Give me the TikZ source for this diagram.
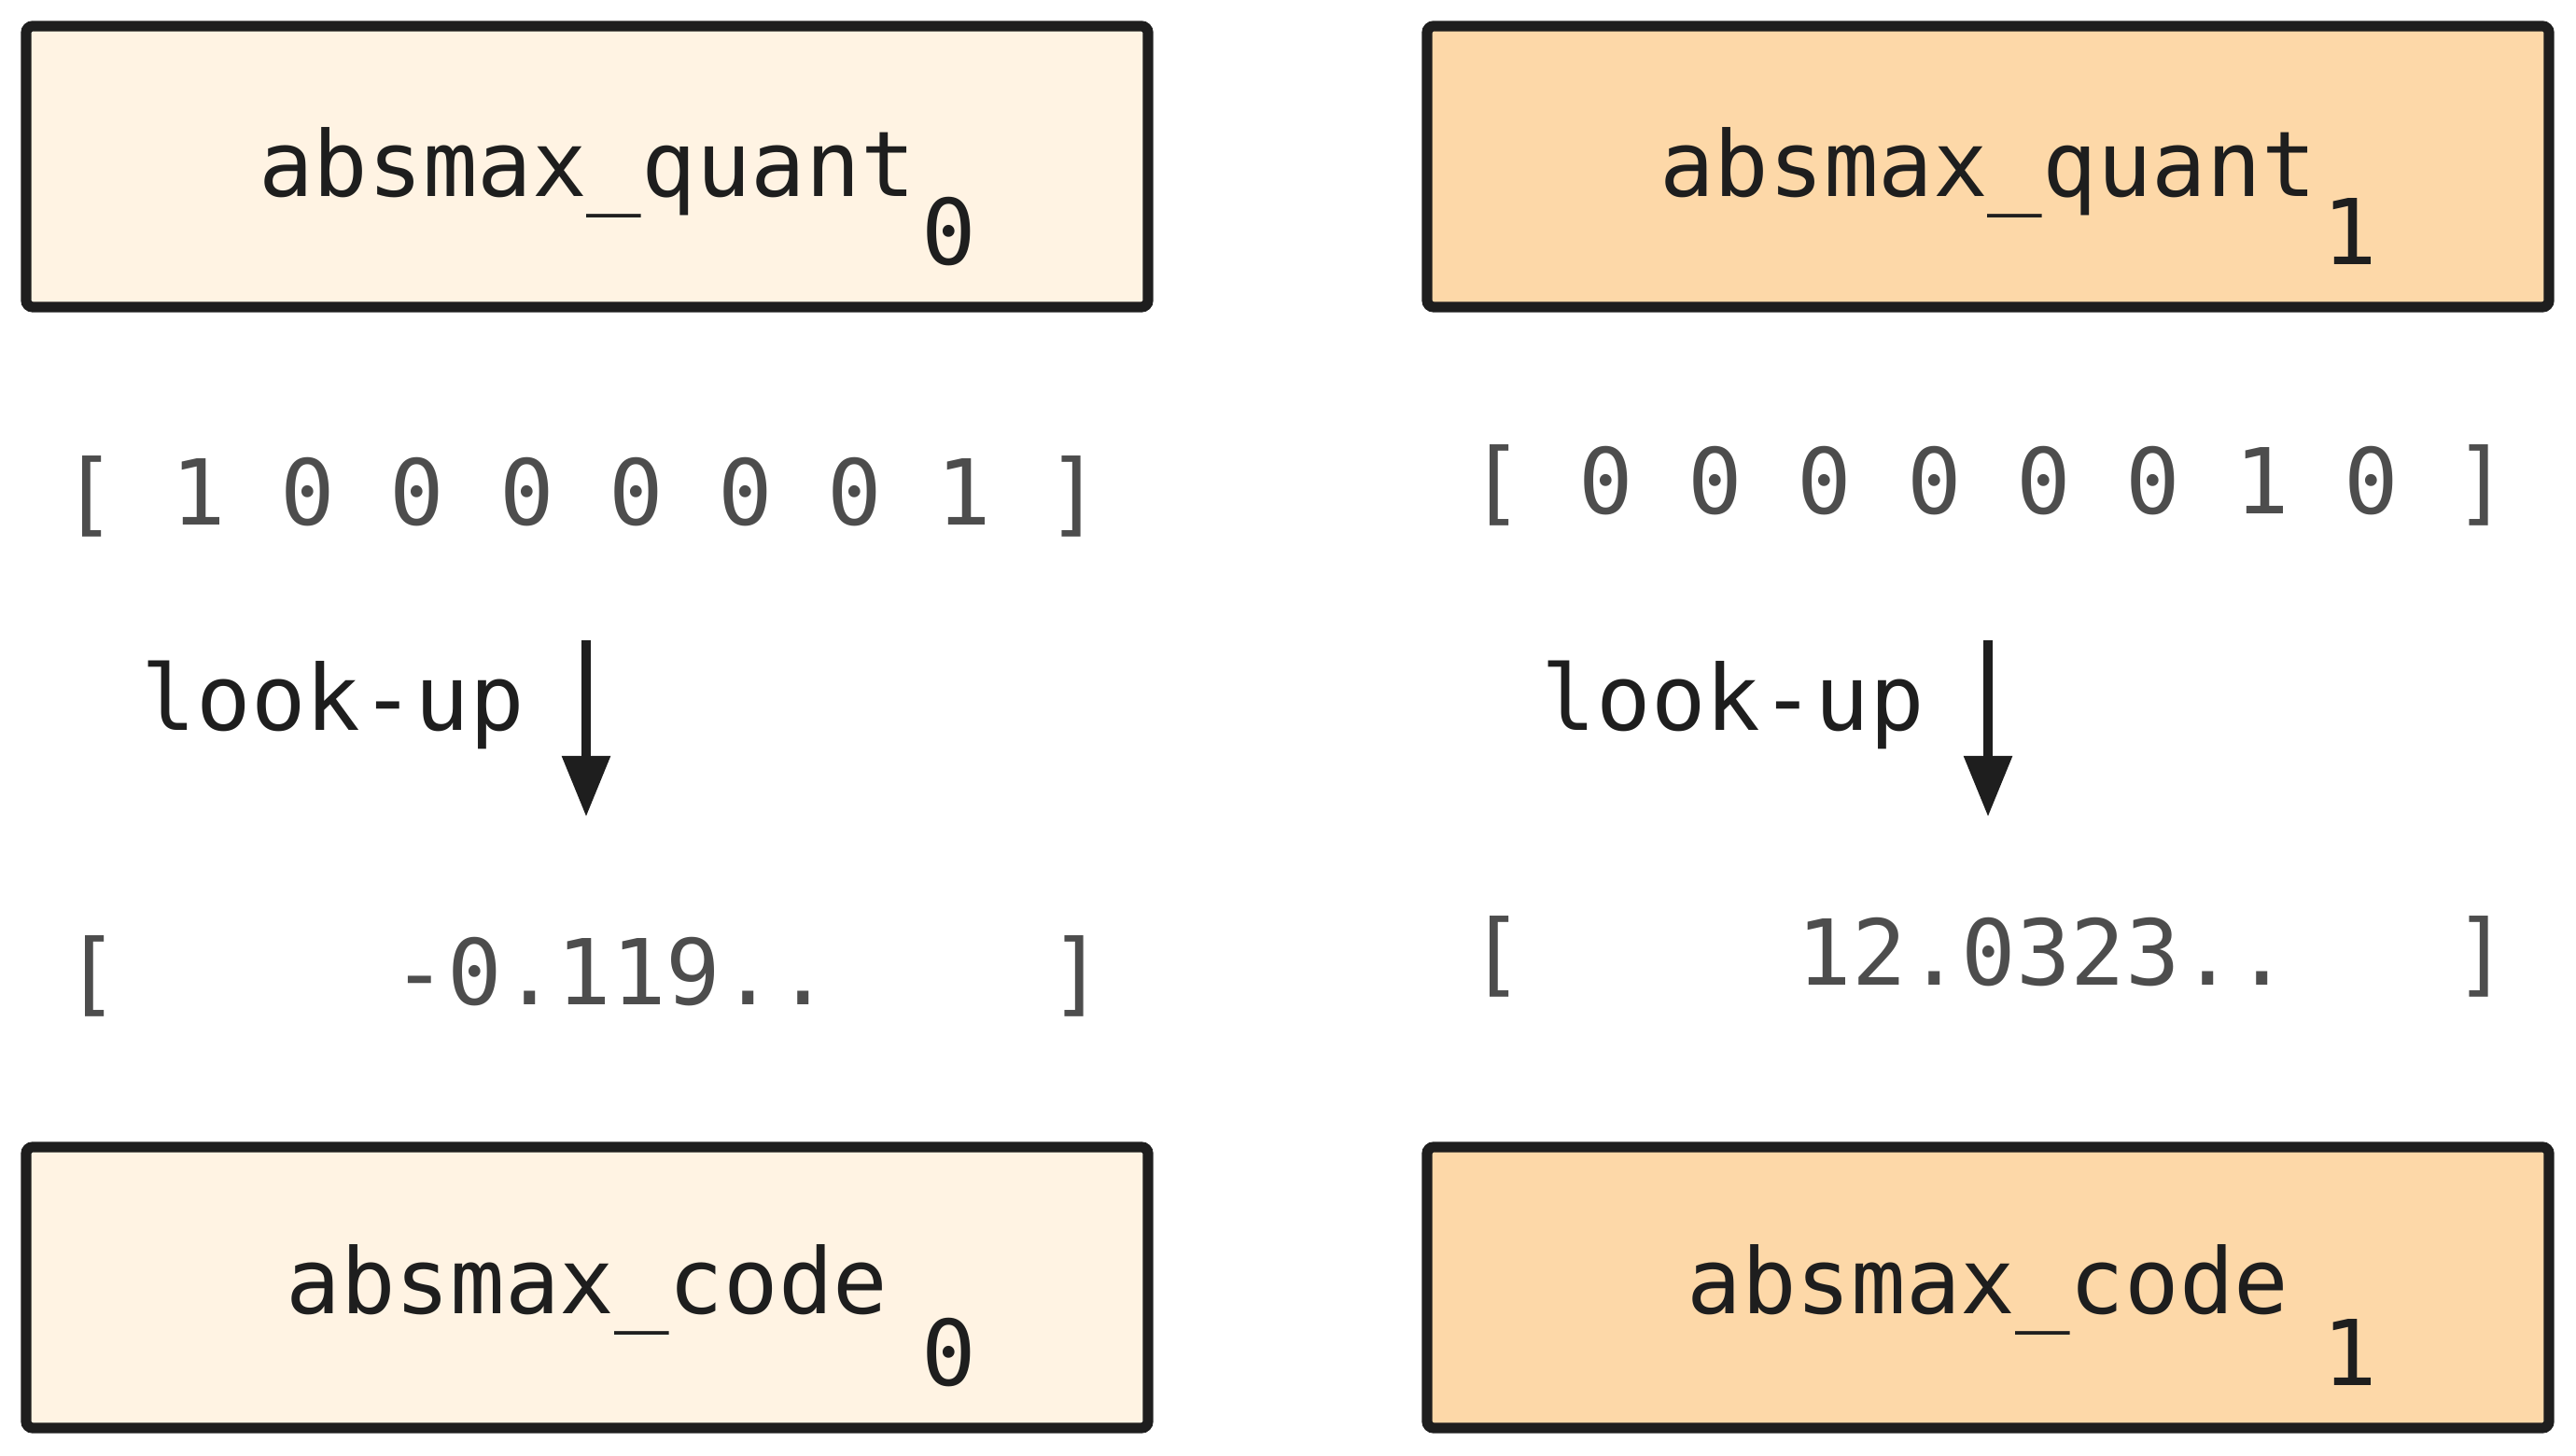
\documentclass[tikz,border=0pt]{standalone}
\usepackage{fontspec}
\setmonofont{DejaVu Sans Mono}
\usetikzlibrary{arrows.meta}
\definecolor{ink}{RGB}{30,30,30}
\definecolor{bitgrey}{RGB}{77,77,77}
\definecolor{paleorange}{RGB}{255,243,227}
\definecolor{lightorange}{RGB}{253,216,168}
\tikzset{
  txt/.style={font=\fontsize{27.7}{33}\selectfont\ttfamily, inner sep=0pt, anchor=base},
  blk/.style={draw=ink, line width=3.2pt, rounded corners=2pt, minimum width=12.02cm, minimum height=3.01cm, inner sep=0pt},
  lookup/.style={draw=ink, line width=2.6pt, -{Triangle[width=0.5cm,length=0.65cm]}}
}
% box with a label and a lowered index
\newcommand\qbox[7]{
  \node[blk, fill=#4] (#1) at (#2,#3) {};
  \node[txt, text=ink] (#1l) at ([yshift=#7]#1.center) {#5};
  \node[txt, text=ink] (#1s) at ([shift={(3.88,-1.05)}]#1.center) {#6};
}

\begin{document}
\begin{tikzpicture}
\useasboundingbox (0,0) rectangle (27.6,15.6);

\qbox{quant0}{6.29}{13.815}{paleorange}{absmax\_quant}{0}{-0.325cm};
\qbox{quant1}{21.30}{13.815}{lightorange}{absmax\_quant}{1}{-0.325cm};
\qbox{code0}{6.29}{1.805}{paleorange}{absmax\_code}{0}{-0.285cm};
\qbox{code1}{21.30}{1.805}{lightorange}{absmax\_code}{1}{-0.285cm};

% bit patterns
\node[txt, text=bitgrey] (bits0) at (6.23,9.97) {[~1~0~0~0~0~0~0~1~]};
\node[txt, text=bitgrey] (bits1) at (21.31,10.09) {[~0~0~0~0~0~0~1~0~]};

% looked-up values
\node[txt, text=bitgrey] (val0) at (6.26,4.83) {[~~~~~-0.119..~~~~]};
\node[txt, text=bitgrey] (val1) at (21.31,5.04) {[~~~~~12.0323..~~~]};

\node[txt, text=ink] (look0) at (3.57,7.77) {look-up};
\node[txt, text=ink] (look1) at (18.57,7.77) {look-up};

\coordinate (from0) at (6.28,8.74);
\coordinate (to0) at (6.28,6.85);
\coordinate (from1) at (21.30,8.74);
\coordinate (to1) at (21.30,6.85);
\draw[lookup] (from0) -- (to0);
\draw[lookup] (from1) -- (to1);
\end{tikzpicture}
\end{document}
